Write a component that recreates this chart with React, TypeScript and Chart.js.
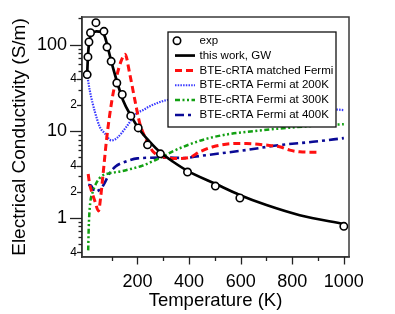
import React, { useEffect, useRef } from 'react';
import { Chart, registerables } from 'chart.js';

Chart.register(...registerables);

const FONT = "'Liberation Sans', Arial, Helvetica, sans-serif";

// Experimental points
const expT = [5, 8, 12, 18, 39, 70, 82, 98, 120, 141, 174, 203, 239, 289, 394, 502, 597, 1000];
const expSigma = [45, 72, 107, 137, 179, 142, 93.5, 64, 36, 26.5, 15, 10.9, 6.95, 5.47, 3.37, 2.32, 1.69, 0.795];

// This work, GW
const gwT = [5, 8, 13, 23, 41, 61, 74, 86, 99, 119, 144, 177, 209, 248, 286, 338, 394, 506, 596, 700, 829, 1000];
const gwSigma = [45, 72, 107, 134, 142, 140, 122, 90, 63, 38.7, 22.8, 14.6, 10.3, 7.5, 5.77, 4.43, 3.48, 2.43, 1.83, 1.4, 1.07, 0.845];

// BTE-cRTA matched Fermi
const matchedT = [9, 14, 25, 35, 49, 58, 67, 80, 99, 119, 138, 152, 170, 190, 209, 235, 261, 299, 351, 403, 441, 493, 583, 622, 700, 751, 790, 829, 899];
const matchedSigma = [3.2, 2.5, 1.9, 1.55, 1.2, 1.8, 3.25, 7.9, 20.9, 42.3, 66, 77, 46, 22.8, 12.3, 7.9, 5.77, 5.06, 4.84, 4.98, 5.77, 6.6, 7.2, 7.2, 6.9, 6.6, 6.04, 5.77, 5.7];

// BTE-cRTA Fermi at 200K
const f200T = [5, 15, 35, 54, 74, 99, 120, 157, 196, 222, 248, 312, 400, 500, 600, 700, 800, 900, 1000];
const f200Sigma = [45, 29.6, 16.7, 11.2, 9.4, 7.8, 8.3, 11.2, 16, 17.5, 19.4, 22.8, 24, 24, 23, 21.5, 20, 18.5, 17.5];

// BTE-cRTA Fermi at 300K
const f300T = [9, 11, 13, 17, 27, 40, 60, 90, 140, 180, 220, 260, 300, 340, 400, 470, 560, 650, 750, 900, 1000];
const f300Sigma = [0.42, 0.75, 1.05, 1.5, 2.0, 2.5, 3.0, 3.25, 3.45, 3.7, 4.0, 4.5, 5.1, 5.9, 7.0, 8.2, 9.3, 10.0, 10.7, 11.6, 12.0];

// BTE-cRTA Fermi at 400K
const f400T = [9, 20, 35, 60, 75, 90, 115, 150, 200, 300, 390, 420, 520, 620, 750, 880, 1000];
const f400Sigma = [2.4, 2.35, 2.0, 2.2, 2.6, 3.2, 3.9, 4.4, 4.85, 4.95, 4.9, 5.06, 5.53, 6.04, 6.9, 7.53, 8.3];

const legendLabels = [
  'exp',
  'this work, GW',
  'BTE-cRTA matched Fermi',
  'BTE-cRTA Fermi at 200K',
  'BTE-cRTA Fermi at 300K',
  'BTE-cRTA Fermi at 400K',
];

const xTickValues = [100, 200, 300, 400, 500, 600, 700, 800, 900, 1000];
const xLabelValues = [200, 400, 600, 800, 1000];
const yTickValues = [0.4, 0.5, 0.6, 0.7, 0.8, 0.9, 1, 2, 3, 4, 5, 6, 7, 8, 9, 10, 20, 30, 40, 50, 60, 70, 80, 90, 100, 200];
const yLabelValues = [0.4, 1, 2, 4, 10, 20, 40, 100];
const yLabelTexts = ['4', '1', '2', '4', '10', '2', '4', '100'];
const yMajorValues = [1, 10, 100];

const pts = (xs: number[], ys: number[]) => xs.map((x, i) => ({ x, y: ys[i] }));
const near = (a: number, b: number) => Math.abs(a - b) < 1e-6 * Math.max(1, Math.abs(b));

const decorPlugin = {
  id: 'decor',
  afterDraw(chart: any) {
    const { ctx, chartArea: ca, scales } = chart;
    const xs = scales.x;
    const ys = scales.y;
    ctx.save();
    // frame
    ctx.strokeStyle = '#3a3a3a';
    ctx.lineWidth = 1.5;
    ctx.strokeRect(ca.left, ca.top, ca.right - ca.left, ca.bottom - ca.top);
    // tick marks
    ctx.strokeStyle = '#222';
    ctx.lineWidth = 1.3;
    xTickValues.forEach((v) => {
      const px = Math.round(xs.getPixelForValue(v)) + 0.5;
      const len = xLabelValues.includes(v) ? 7.5 : 4;
      ctx.beginPath();
      ctx.moveTo(px, ca.bottom);
      ctx.lineTo(px, ca.bottom + len);
      ctx.stroke();
    });
    yTickValues.forEach((v) => {
      const py = Math.round(ys.getPixelForValue(v)) + 0.5;
      if (py < ca.top - 1) return;
      const len = yMajorValues.some((m) => near(v, m)) ? 12 : yLabelValues.some((m) => near(v, m)) ? 5 : 3.5;
      ctx.beginPath();
      ctx.moveTo(ca.left - len, py);
      ctx.lineTo(ca.left, py);
      ctx.stroke();
    });
    // legend
    const bx = ca.left + 86;
    const by = ca.top + 15;
    const bw = 168;
    const bh = 95;
    ctx.fillStyle = '#fff';
    ctx.fillRect(bx, by, bw, bh);
    ctx.strokeStyle = '#111';
    ctx.lineWidth = 1.3;
    ctx.strokeRect(bx, by, bw, bh);
    ctx.font = `11.5px ${FONT}`;
    ctx.textBaseline = 'middle';
    ctx.textAlign = 'left';
    chart.data.datasets.forEach((ds: any, i: number) => {
      const ry = by + 8.7 + i * 14.85;
      if (ds.showLine === false) {
        ctx.beginPath();
        ctx.setLineDash([]);
        ctx.lineWidth = ds.pointBorderWidth;
        ctx.strokeStyle = ds.pointBorderColor;
        ctx.fillStyle = '#fff';
        ctx.arc(bx + 9, ry, ds.pointRadius, 0, Math.PI * 2);
        ctx.fill();
        ctx.stroke();
      } else {
        ctx.beginPath();
        ctx.setLineDash(ds.borderDash || []);
        ctx.lineWidth = ds.borderWidth;
        ctx.strokeStyle = ds.borderColor;
        ctx.moveTo(bx + 7, ry);
        ctx.lineTo(bx + 27, ry);
        ctx.stroke();
        ctx.setLineDash([]);
      }
      ctx.fillStyle = '#000';
      ctx.fillText(legendLabels[i], bx + 31.5, ry);
    });
    ctx.restore();
  },
};

export default function App() {
  const canvasRef = useRef<HTMLCanvasElement | null>(null);

  useEffect(() => {
    document.body.style.margin = '0';
    const canvas = canvasRef.current;
    if (!canvas) return;
    const lineDs = (label: string, xs: number[], ys: number[], color: string, width: number, dash: number[]) => ({
      label,
      data: pts(xs, ys),
      borderColor: color,
      backgroundColor: color,
      borderWidth: width,
      borderDash: dash,
      pointRadius: 0,
      fill: false,
      cubicInterpolationMode: 'monotone' as const,
      borderCapStyle: 'butt' as const,
    });
    const chart = new Chart(canvas, {
      type: 'line',
      data: {
        datasets: [
          {
            label: legendLabels[0],
            data: pts(expT, expSigma),
            showLine: false,
            pointRadius: 3.7,
            pointBorderWidth: 1.6,
            pointBorderColor: '#000',
            pointBackgroundColor: '#fff',
            borderColor: '#000',
            backgroundColor: '#fff',
          } as any,
          lineDs(legendLabels[1], gwT, gwSigma, '#000', 2.7, []),
          lineDs(legendLabels[2], matchedT, matchedSigma, '#ff1010', 3, [7, 4]),
          lineDs(legendLabels[3], f200T, f200Sigma, '#3b3bff', 2.2, [1.5, 1.2]),
          lineDs(legendLabels[4], f300T, f300Sigma, '#12a012', 2.5, [5, 2.5, 2, 2.5, 2, 2.5]),
          lineDs(legendLabels[5], f400T, f400Sigma, '#0a0a96', 2.6, [9, 4, 3, 4]),
        ],
      },
      options: {
        responsive: false,
        animation: false,
        devicePixelRatio: 1,
        layout: { padding: { top: 17, right: 46, left: 0, bottom: 0 } },
        plugins: { legend: { display: false }, tooltip: { enabled: false } },
        scales: {
          x: {
            type: 'linear',
            min: -15,
            max: 1020,
            afterBuildTicks: (s: any) => {
              s.ticks = xTickValues.map((v) => ({ value: v }));
            },
            afterFit: (s: any) => {
              s.height = 57;
            },
            ticks: {
              autoSkip: false,
              maxRotation: 0,
              padding: 14,
              color: '#000',
              font: { family: FONT, size: 18 },
              callback: (v: any) => (xLabelValues.includes(Number(v)) ? String(v) : ''),
            },
            grid: { display: false, drawTicks: false },
            border: { display: true, color: '#333', width: 1.5 },
            title: {
              display: true,
              text: 'Temperature (K)',
              color: '#000',
              font: { family: FONT, size: 18.5 },
              padding: { top: 0, bottom: 2 },
            },
          },
          y: {
            type: 'logarithmic',
            min: 0.352,
            max: 208,
            afterBuildTicks: (s: any) => {
              s.ticks = yTickValues.map((v) => ({ value: v, major: yMajorValues.includes(v) }));
            },
            afterFit: (s: any) => {
              s.width = 82;
            },
            ticks: {
              autoSkip: false,
              padding: 5,
              color: '#000',
              font: (ctx: any) => ({
                family: FONT,
                size: ctx.tick && yMajorValues.some((m) => near(ctx.tick.value, m)) ? 18 : 12,
              }),
              callback: (v: any) => {
                const idx = yLabelValues.findIndex((m) => near(Number(v), m));
                if (idx < 0) return '';
                const t = yLabelTexts[idx];
                return yMajorValues.some((m) => near(Number(v), m)) ? t + '  ' : t;
              },
            },
            grid: { display: false, drawTicks: false },
            border: { display: true, color: '#333', width: 1.5 },
            title: {
              display: true,
              text: 'Electrical Conductivity (S/m)',
              color: '#000',
              font: { family: FONT, size: 19 },
              padding: { top: 8, bottom: 0 },
            },
          },
        },
      } as any,
      plugins: [decorPlugin],
    });
    return () => chart.destroy();
  }, []);

  return (
    <div style={{ position: 'absolute', left: 0, top: 0, width: 395, height: 314 }}>
      <canvas ref={canvasRef} width={395} height={314} style={{ width: 395, height: 314 }} />
    </div>
  );
}
